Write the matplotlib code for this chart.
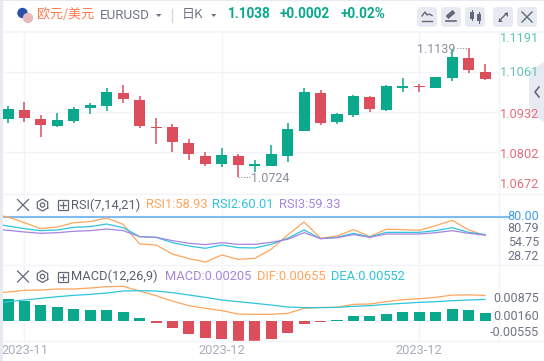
import numpy as np
import matplotlib
matplotlib.use("Agg")
import matplotlib.pyplot as plt
from matplotlib.patches import FancyBboxPatch, Polygon, Circle, Rectangle

# ---- data ----
opens = [1.0910,1.0939,1.0910,1.0887,1.0903,1.0945,1.0952,1.0993,1.0971,1.0884,
         1.0884,1.0832,1.0791,1.0765,1.0791,1.0758,1.0758,1.0791,1.0871,1.0993,
         1.0900,1.0923,1.0981,1.0939,1.1009,1.1016,1.1009,1.1042,1.1106,1.1061]
highs = [1.0952,1.0964,1.0923,1.0929,1.0948,1.0961,1.1009,1.1019,1.0984,1.0913,
         1.0894,1.0845,1.0803,1.0816,1.0797,1.0778,1.0826,1.0897,1.1009,1.1003,
         1.0929,1.0987,1.0984,1.1019,1.1042,1.1022,1.1045,1.1132,1.1139,1.1087]
lows  = [1.0897,1.0900,1.0852,1.0884,1.0897,1.0926,1.0935,1.0961,1.0881,1.0829,
         1.0803,1.0778,1.0758,1.0755,1.0724,1.0739,1.0758,1.0771,1.0871,1.0890,
         1.0894,1.0916,1.0932,1.0935,1.0997,1.0997,1.1009,1.1032,1.1058,1.1035]
closes= [1.0942,1.0913,1.0890,1.0906,1.0942,1.0955,1.0997,1.0974,1.0887,1.0881,
         1.0836,1.0797,1.0765,1.0794,1.0762,1.0765,1.0797,1.0877,1.0997,1.0897,
         1.0926,1.0984,1.0942,1.1016,1.1016,1.1013,1.1045,1.1109,1.1067,1.1038]
rsi1 = [83.4,80.0,73.5,66.7,68.6,73.5,74.7,78.9,71.6,49.2,48.1,37.8,32.5,28.7,36.7,31.7,
        32.9,43.1,59.5,74.3,55.7,58.3,65.6,57.6,66.0,65.6,64.8,70.1,76.2,65.2,58.93]
rsi2 = [72.8,69.7,66.7,64.4,65.2,68.2,69.0,72.0,67.8,57.6,56.8,50.7,46.9,44.3,48.1,45.0,
        44.7,48.8,55.7,65.2,55.3,56.8,61.4,57.2,62.5,62.5,62.5,64.4,67.8,62.5,60.01]
rsi3 = [66.3,64.8,62.9,61.4,62.1,63.7,64.4,66.3,64.4,57.6,56.8,53.0,50.0,48.5,50.7,48.8,
        48.8,51.1,54.5,62.1,55.3,56.4,59.9,56.8,60.6,60.6,60.6,62.1,64.4,61.4,59.33]
hist = [.00564,.00521,.00410,.00359,.00307,.00282,.00282,.00231,.00077,-.00051,
        -.00179,-.00333,-.00436,-.00461,-.00512,-.00512,-.00461,-.00307,-.00077,-.00026,
        .00017,.00128,.00128,.00179,.00231,.00231,.00231,.00307,.00282,.00205]
dif = [.00709,.00743,.00786,.00794,.00820,.00820,.00845,.00880,.00888,.00769,.00649,
       .00512,.00393,.00325,.00265,.00179,.00171,.00171,.00196,.00325,.00350,
       .00350,.00427,.00436,.00495,.00547,.00572,.00606,.00665,.00670,.00655]
dea = [.00436,.00495,.00538,.00581,.00623,.00658,.00683,.00717,.00769,.00777,.00769,
       .00726,.00666,.00606,.00538,.00495,.00453,.00410,.00359,.00342,.00342,
       .00350,.00376,.00393,.00427,.00453,.00478,.00495,.00520,.00540,.00552]
date_pos = [1, 13, 25]
date_labels = ["2023-11", "2023-12", "2023-12"]
main_grid = [1.1061, 1.0932, 1.0802]
price_labels = [("1.1191", 39, "up"), ("1.1061", 73, "up"), ("1.0932", 114, "down"),
                ("1.0802", 154, "down"), ("1.0672", 184, "down")]
rsi_labels = [("80.79", 228.5), ("54.75", 243), ("28.72", 257)]
macd_labels = [("0.00875", 298), ("0.00160", 316), ("-0.00555", 333)]

GREEN = "#0aa88c"; RED = "#dc4e5c"; GRID = "#f2f4f9"; GREY = "#6f7486"
ORANGE = "#ffa55c"; CYAN = "#2ec4dc"; PURPLE = "#a585e0"; SOFT = "#e8eaf1"

W, H = 544, 361
fig = plt.figure(figsize=(W/100, H/100), dpi=100, facecolor="white")
plt.rcParams["font.family"] = ["Roboto", "DejaVu Sans"]

def pane(top, bottom, ylim):
    ax = fig.add_axes([3/W, 1-bottom/H, (498.7-3)/W, (bottom-top)/H])
    ax.set_xlim(-0.304, 29.83)
    ax.set_ylim(*ylim)
    ax.patch.set_alpha(0)
    for s in ax.spines.values():
        s.set_visible(False)
    ax.set_yticks([])
    ax.set_xticks(date_pos)
    ax.set_xticklabels([])
    ax.tick_params(length=0)
    ax.grid(axis="x", color=GRID, lw=1)
    ax.set_axisbelow(True)
    return ax

ax1 = pane(32, 194, (1.06682, 1.11898))
ax2 = pane(194, 264, (26.4, 106.2))
ax3 = pane(265, 341, (-.00512, .01435))

# candles
idx = np.arange(len(opens))
for i, o, h, l, c in zip(idx, opens, highs, lows, closes):
    col = GREEN if c >= o else RED
    ax1.vlines(i, l, h, color=col, lw=1.1, zorder=2)
    ax1.bar(i, max(abs(c-o), 0.00035), bottom=min(o, c), width=0.67, color=col, zorder=3)
for g in main_grid:
    ax1.axhline(g, color=GRID, lw=1, zorder=1)

# extreme markers
hi = int(np.argmax(highs)); lo = int(np.argmin(lows))
ax1.plot([hi-0.72, hi], [highs[hi], highs[hi]], color="#8a8e9c", lw=0.8, ls=(0, (1, 1.5)))
ax1.text(hi-0.78, highs[hi]-0.0005, f"{highs[hi]:.4f}", ha="right", va="center", color="#8a8e9c", fontsize=9)
ax1.plot([lo, lo+0.72], [lows[lo], lows[lo]], color="#8a8e9c", lw=0.8, ls=(0, (1, 1.5)))
ax1.text(lo+0.78, lows[lo]-0.0006, f"{lows[lo]:.4f}", ha="left", va="center", color="#8a8e9c", fontsize=9)

# RSI
xline = np.arange(-1, 30)
ax2.axhline(80, color="#7fbcf0", lw=1.5, zorder=1)
ax2.plot(xline, rsi1, color=ORANGE, lw=0.9, zorder=3)
ax2.plot(xline, rsi2, color=CYAN, lw=0.9, zorder=3)
ax2.plot(xline, rsi3, color=PURPLE, lw=0.9, zorder=3)

# MACD
ax3.bar(idx, hist, width=0.67, color=[GREEN if v >= 0 else RED for v in hist], zorder=2)
ax3.plot(xline, dif, color=ORANGE, lw=0.9, zorder=3)
ax3.plot(xline, dea, color=CYAN, lw=0.9, zorder=3)
ax3.set_xticklabels(date_labels, color="#a9adbd", fontsize=9.3)
ax3.tick_params(axis="x", pad=2)

# ---- chrome, in pixel coordinates ----
ov = fig.add_axes([0, 0, 1, 1], zorder=10)
ov.set_xlim(0, W); ov.set_ylim(H, 0); ov.axis("off"); ov.patch.set_alpha(0)
ov.add_patch(Rectangle((0, 0), 3, H, color=SOFT, lw=0))
ov.add_patch(Rectangle((0, 0), W, 1, color=SOFT, lw=0))
for y, lw in [(31.5, 1.2), (194, 1), (264.5, 1), (341, 1)]:
    ov.plot([3, W], [y, y], color=GRID, lw=lw)
ov.plot([498.7, 498.7], [32, 341], color=GRID, lw=1)
ov.plot([498.7, 508], [216.8, 216.8], color="#7fbcf0", lw=1.5)

# header
ov.add_patch(Circle((22.5, 13), 5.2, color="#2a4fa8", lw=0))
ov.add_patch(Circle((28, 18), 5.2, color="#e8b9bd", lw=0))
ov.text(36.5, 14.5, "欧元/美元", family=["Noto Sans CJK SC", "DejaVu Sans"], color="#ff7a4d", fontsize=9.4, va="center")
ov.text(99.5, 15.5, "EURUSD", color=GREY, fontsize=9.6, va="center")
ov.add_patch(Polygon([(156, 14), (161.5, 14), (158.7, 17)], color=GREY, lw=0))
ov.plot([172, 172], [9, 22], color="#d5d8e2", lw=1)
ov.text(182, 14.5, "日K", family=["Noto Sans CJK SC", "DejaVu Sans"], color=GREY, fontsize=9.4, va="center")
ov.add_patch(Polygon([(211, 14), (216.5, 14), (213.7, 17)], color=GREY, lw=0))
ov.text(227.5, 14.5, "1.1038", color=GREEN, fontsize=9.8, fontweight="bold", va="center")
ov.text(279.5, 14.5, "+0.0002", color=GREEN, fontsize=9.8, fontweight="bold", va="center")
ov.text(341, 14.5, "+0.02%", color=GREEN, fontsize=9.8, fontweight="bold", va="center")

for x0 in [417, 441, 465, 493, 517]:
    ov.add_patch(FancyBboxPatch((x0, 7), 20, 20, boxstyle="round,pad=0,rounding_size=4", lw=0, fc=SOFT))
ic = "#62677a"
ov.plot([422, 425, 427, 429, 432], [16, 12, 15, 14, 15.5], color=ic, lw=1)
ov.plot([422, 432], [20.5, 20.5], color=ic, lw=1)
ov.plot([447, 454], [17.5, 11.5], color=ic, lw=3, solid_capstyle="butt")
ov.plot([446, 456], [21, 21], color=ic, lw=1.2)
ov.add_patch(Rectangle((470, 12), 4, 7, color=ic, lw=0)); ov.plot([472, 472], [10, 20], color=ic, lw=0.8)
ov.add_patch(Rectangle((477, 14), 4, 7, color=ic, lw=0)); ov.plot([479, 479], [12, 23], color=ic, lw=0.8)
ov.plot([499, 507], [21, 13], color=ic, lw=1)
ov.add_patch(Polygon([(504, 13), (507.5, 13), (507.5, 16.5)], color=ic, lw=0))
ov.add_patch(Polygon([(499, 18), (499, 21.5), (502.5, 21.5)], color=ic, lw=0))
ov.plot([522, 532], [12, 22], color=ic, lw=1); ov.plot([522, 532], [22, 12], color=ic, lw=1)

# side handle
ov.add_patch(Polygon([(544, 62), (529, 72), (529, 113), (544, 122)], color=SOFT, lw=0))
ov.plot([539, 535, 539], [87, 92, 97], color=ic, lw=1.2)

# axis labels
for t, y, k in price_labels:
    ov.text(539, y, t, ha="right", va="center", fontsize=9.2, color="#5fc4b0" if k == "up" else "#e36f7c")
ov.text(539, 216, "80.00", ha="right", va="center", fontsize=9.0, color="#3d9bec")
for t, y in rsi_labels + macd_labels:
    ov.text(539, y, t, ha="right", va="center", fontsize=9.0, color=GREY)

# pane legends
for y, name, items in [
    (205, "RSI(7,14,21)", [("RSI1:58.93", 146, ORANGE), ("RSI2:60.01", 212, CYAN), ("RSI3:59.33", 279, PURPLE)]),
    (276.5, "MACD(12,26,9)", [("MACD:0.00205", 165, PURPLE), ("DIF:0.00655", 257, ORANGE), ("DEA:0.00552", 331, CYAN)]),
]:
    ov.plot([17.5, 28.5], [y-5.5, y+5.5], color=ic, lw=0.9)
    ov.plot([17.5, 28.5], [y+5.5, y-5.5], color=ic, lw=0.9)
    a = np.linspace(0, 2*np.pi, 7) + np.pi/6
    ov.plot(42.5+6*np.cos(a), y+6*np.sin(a), color=ic, lw=0.9)
    ov.add_patch(Circle((42.5, y), 2.2, fill=False, ec=ic, lw=0.9))
    ov.add_patch(Rectangle((57.5, y-5), 10, 10, fill=False, ec=ic, lw=0.9))
    ov.plot([59.5, 65.5], [y, y], color=ic, lw=0.9); ov.plot([62.5, 62.5], [y-3, y+3], color=ic, lw=0.9)
    ov.text(71, y, name, va="center", color="#5a5f70", fontsize=9.3)
    for t, x, c in items:
        ov.text(x, y, t, va="center", color=c, fontsize=9.3)

fig.savefig("out.png", dpi=100, facecolor="white")
